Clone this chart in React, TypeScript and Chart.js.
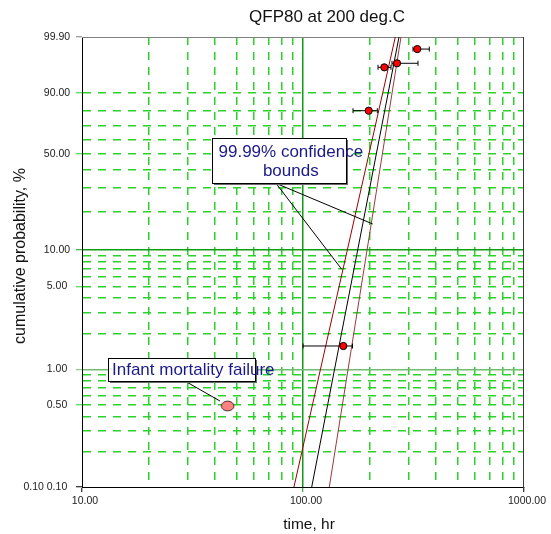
import React, { useEffect, useRef } from 'react';
import { Chart, registerables } from 'chart.js';

Chart.register(...registerables);

const FONT = '"Liberation Sans", Arial, Helvetica, sans-serif';

// ---------------- data ----------------
const TITLE = 'QFP80 at 200 deg.C';
const X_TITLE = 'time, hr';
const Y_TITLE = 'cumulative probability, %';

// failures: time (hr), cumulative probability (%), horizontal error range (hr)
const failTimes = [329.0, 266.3, 233.3, 198.3, 152.2];
const failProbs = [99.57, 98.38, 97.78, 80.29, 1.584];
const errLow = [314.6, 252.7, 218.5, 168.4, 100.0];
const errHigh = [372.8, 331.4, 250.1, 216.9, 167.5];

// infant mortality failure
const infantTimes = [45.62];
const infantProbs = [0.49];

// Weibull fit and 99.99% confidence bounds (end points)
const lineProbs = [0.1, 99.9];
const fitTimes = [109.5, 271.9];
const lowerBoundTimes = [91.0, 261.6];
const upperBoundTimes = [131.5, 277.6];

// axes
const xGridValues = [10, 20, 30, 40, 50, 60, 70, 80, 90, 100, 200, 300, 400, 500, 600, 700, 800, 900, 1000];
const xLabelValues = [10, 100, 1000];
const xLabelTexts = ['10.00', '100.00', '1000.00'];

const yGridValues = [0.1, 0.2, 0.3, 0.4, 0.5, 0.6, 0.7, 0.8, 0.9, 1, 2, 3, 4, 5, 6, 7, 8, 9, 10, 20, 30, 40, 50, 60, 70, 80, 90, 99.9];
const yLabelValues = [99.9, 90, 50, 10, 5, 1, 0.5, 0.1];
const yLabelTexts = ['99.90', '90.00', '50.00', '10.00', '5.00', '1.00', '0.50', '0.10 0.10'];

// annotations (anchors in data coordinates: [time, %])
const annotations = [
  {
    lines: ['99.99% confidence', 'bounds'],
    box: [38.87, 61.1, 156.5, 32.3],
    textDx: 6,
    textDy: 18.5,
    lineGap: 19,
    centered: true,
    from: [75.45, 32.3],
    to: [[206.8, 16.09], [149.7, 6.95]],
  },
  {
    lines: ['Infant mortality failure'],
    box: [13.07, 1.245, 60.66, 0.8044],
    textDx: 3.5,
    textDy: 16.7,
    lineGap: 19,
    centered: false,
    from: [29.04, 0.8044],
    to: [[42.1, 0.5403]],
  },
];

// ---------------- helpers ----------------
const W = (p: number) => Math.log(-Math.log(1 - p / 100));

const DASH_GREEN = '#2ad22a';
const SOLID_GREEN = '#109c10';
const LIGHT_GREEN = '#70bc70';
const NONE = 'rgba(0,0,0,0)';

function yGridColor(p: number) {
  if (p === 0.1 || p === 99.9) return NONE;
  if (p === 10) return SOLID_GREEN;
  if (p === 1) return LIGHT_GREEN;
  return DASH_GREEN;
}
function yGridDash(p: number) {
  if (p === 10 || p === 1 || p === 0.1 || p === 99.9) return [];
  return [8, 7];
}
function yTickColor(p: number) {
  if (!yLabelValues.includes(p)) return NONE;
  if (p === 0.1) return '#000';
  if (p === 99.9) return '#808080';
  if (p === 10) return SOLID_GREEN;
  if (p === 1) return LIGHT_GREEN;
  return DASH_GREEN;
}
function xGridColor(v: number) {
  if (v === 10 || v === 1000) return NONE;
  if (v === 100) return SOLID_GREEN;
  return DASH_GREEN;
}
function xTickColor(v: number) {
  if (v === 100) return SOLID_GREEN;
  if (v === 10 || v === 1000) return '#000';
  return NONE;
}

function makeEllipse() {
  const c = document.createElement('canvas');
  c.width = 15;
  c.height = 12;
  const g = c.getContext('2d')!;
  g.beginPath();
  g.ellipse(7.5, 6, 6.3, 4.9, 0, 0, Math.PI * 2);
  g.fillStyle = '#ff8282';
  g.fill();
  g.lineWidth = 0.9;
  g.strokeStyle = '#3a2020';
  g.stroke();
  return c;
}

const framePlugin = {
  id: 'frame',
  beforeDatasetsDraw(chart: any) {
    const { ctx, chartArea: ca } = chart;
    ctx.save();
    ctx.lineWidth = 1;
    ctx.strokeStyle = '#808080';
    ctx.beginPath();
    ctx.moveTo(ca.left, Math.round(ca.top) + 0.5);
    ctx.lineTo(ca.right, Math.round(ca.top) + 0.5);
    ctx.stroke();
    ctx.strokeStyle = '#3a3a3a';
    ctx.beginPath();
    ctx.moveTo(Math.round(ca.right) - 0.5, ca.top);
    ctx.lineTo(Math.round(ca.right) - 0.5, ca.bottom + 5);
    ctx.stroke();
    ctx.restore();
  },
};

const overlayPlugin = {
  id: 'overlay',
  afterDraw(chart: any) {
    const { ctx, chartArea: ca } = chart;
    const xs = chart.scales.x;
    const ys = chart.scales.y;
    const px = (t: number) => xs.getPixelForValue(t);
    const py = (p: number) => ys.getPixelForValue(W(p));
    ctx.save();

    // title
    ctx.font = `17px ${FONT}`;
    ctx.fillStyle = '#111';
    ctx.textAlign = 'center';
    ctx.textBaseline = 'alphabetic';
    ctx.fillText(TITLE, (ca.left + ca.right) / 2 + 24, 22);

    // y tick labels
    ctx.font = `10.5px ${FONT}`;
    ctx.fillStyle = '#222';
    ctx.textBaseline = 'middle';
    ctx.textAlign = 'right';
    const yLabelCenter = ca.left - 25;
    yLabelValues.forEach((p, i) => {
      const txt = yLabelTexts[i];
      const parts = txt.split(' ');
      const last = parts[parts.length - 1];
      const w = ctx.measureText(last).width;
      ctx.fillText(txt, yLabelCenter + w / 2, py(p));
    });

    // x tick labels
    ctx.textAlign = 'center';
    xLabelValues.forEach((v, i) => {
      ctx.fillText(xLabelTexts[i], px(v) + 3, ca.bottom + 14.5);
    });

    // axis titles
    ctx.font = `15.5px ${FONT}`;
    ctx.fillStyle = '#111';
    ctx.textAlign = 'center';
    ctx.textBaseline = 'alphabetic';
    ctx.fillText(X_TITLE, (ca.left + ca.right) / 2 + 6, ca.bottom + 42);

    ctx.save();
    ctx.translate(21, (ca.top + ca.bottom) / 2 - 6);
    ctx.rotate(-Math.PI / 2);
    ctx.font = `16px ${FONT}`;
    ctx.textBaseline = 'middle';
    ctx.fillText(Y_TITLE, 0, 0);
    ctx.restore();

    // annotations
    annotations.forEach((a) => {
      ctx.strokeStyle = '#000';
      ctx.lineWidth = 1;
      const fx = px(a.from[0]);
      const fy = py(a.from[1]);
      a.to.forEach((t) => {
        ctx.beginPath();
        ctx.moveTo(fx, fy);
        ctx.lineTo(px(t[0]), py(t[1]));
        ctx.stroke();
      });
      const l = Math.round(px(a.box[0])) + 0.5;
      const t = Math.round(py(a.box[1])) + 0.5;
      const r = Math.round(px(a.box[2])) + 0.5;
      const b = Math.round(py(a.box[3])) + 0.5;
      ctx.fillStyle = '#6a6a6a';
      ctx.fillRect(l + 1.5, t + 1.5, r - l, b - t);
      ctx.fillStyle = '#fff';
      ctx.fillRect(l, t, r - l, b - t);
      ctx.strokeStyle = '#000';
      ctx.strokeRect(l, t, r - l, b - t);

      ctx.font = `17px ${FONT}`;
      ctx.fillStyle = '#1a1a8a';
      ctx.textBaseline = 'alphabetic';
      const widest = Math.max(...a.lines.map((s) => ctx.measureText(s).width));
      a.lines.forEach((s, i) => {
        const y = t + a.textDy + i * a.lineGap;
        if (a.centered) {
          ctx.textAlign = 'center';
          ctx.fillText(s, l + a.textDx + widest / 2, y);
        } else {
          ctx.textAlign = 'left';
          ctx.fillText(s, l + a.textDx, y);
        }
      });
    });

    ctx.restore();
  },
};

export default function App() {
  const ref = useRef<HTMLCanvasElement | null>(null);

  useEffect(() => {
    document.body.style.margin = '0';
    const canvas = ref.current!;
    const ellipse = makeEllipse();

    const lineData = (times: number[]) => times.map((t, i) => ({ x: t, y: W(lineProbs[i]) }));

    const errorSets = failTimes.map((_, i) => ({
      data: [
        { x: errLow[i], y: W(failProbs[i]) },
        { x: errHigh[i], y: W(failProbs[i]) },
      ],
      borderColor: '#000',
      borderWidth: 1,
      pointStyle: 'line',
      rotation: 90,
      pointRadius: 2.5,
      pointBorderColor: '#000',
      pointBorderWidth: 1,
      order: 3,
    }));

    const chart = new Chart(canvas, {
      type: 'line',
      data: {
        datasets: [
          {
            data: lineData(fitTimes),
            borderColor: '#000',
            borderWidth: 1,
            pointRadius: 0,
            order: 5,
          },
          {
            data: lineData(lowerBoundTimes),
            borderColor: '#9a0000',
            borderWidth: 1,
            pointRadius: 0,
            order: 5,
          },
          {
            data: lineData(upperBoundTimes),
            borderColor: '#9a3a3a',
            borderWidth: 1,
            pointRadius: 0,
            order: 5,
          },
          ...errorSets,
          {
            data: failTimes.map((t, i) => ({ x: t, y: W(failProbs[i]) })),
            showLine: false,
            pointRadius: 3.6,
            pointBackgroundColor: '#ff0000',
            pointBorderColor: '#000',
            pointBorderWidth: 1,
            order: 1,
          },
          {
            data: infantTimes.map((t, i) => ({ x: t, y: W(infantProbs[i]) })),
            showLine: false,
            pointStyle: ellipse,
            pointRadius: 6,
            order: 1,
          },
        ] as any,
      },
      options: {
        responsive: false,
        animation: false,
        devicePixelRatio: 1,
        events: [],
        layout: { padding: { left: 76, right: 27, top: 37, bottom: 42 } },
        plugins: {
          legend: { display: false },
          tooltip: { enabled: false },
          title: { display: false },
        },
        scales: {
          x: {
            type: 'logarithmic',
            position: 'bottom',
            min: 10,
            max: 1000,
            afterBuildTicks: (s: any) => {
              s.ticks = xGridValues.map((v) => ({ value: v }));
            },
            ticks: { display: false },
            grid: {
              color: (c: any) => (c.tick ? xGridColor(xGridValues[c.index]) : NONE),
              lineWidth: 1.5,
              drawTicks: true,
              tickLength: 5,
              tickWidth: 1,
              tickColor: (c: any) => (c.tick ? xTickColor(xGridValues[c.index]) : NONE),
            },
            border: {
              display: true,
              color: '#000',
              width: 1,
              dash: (c: any) => {
                if (!c.tick) return [];
                const v = xGridValues[c.index];
                return v === 100 || v === 10 || v === 1000 ? [] : [8, 7];
              },
            },
          },
          y: {
            type: 'linear',
            min: W(0.1),
            max: W(99.9),
            afterBuildTicks: (s: any) => {
              s.ticks = yGridValues.map((p) => ({ value: W(p) }));
            },
            ticks: { display: false },
            grid: {
              color: (c: any) => (c.tick ? yGridColor(yGridValues[c.index]) : NONE),
              lineWidth: 1.5,
              drawTicks: true,
              tickLength: 6,
              tickWidth: 1,
              tickColor: (c: any) => (c.tick ? yTickColor(yGridValues[c.index]) : NONE),
            },
            border: {
              display: true,
              color: '#000',
              width: 1,
              dash: (c: any) => (c.tick ? yGridDash(yGridValues[c.index]) : []),
            },
          },
        },
      } as any,
      plugins: [framePlugin, overlayPlugin],
    });

    return () => chart.destroy();
  }, []);

  return (
    <div style={{ width: 551, height: 534 }}>
      <canvas ref={ref} width={551} height={534} style={{ display: 'block', width: 551, height: 534 }} />
    </div>
  );
}
